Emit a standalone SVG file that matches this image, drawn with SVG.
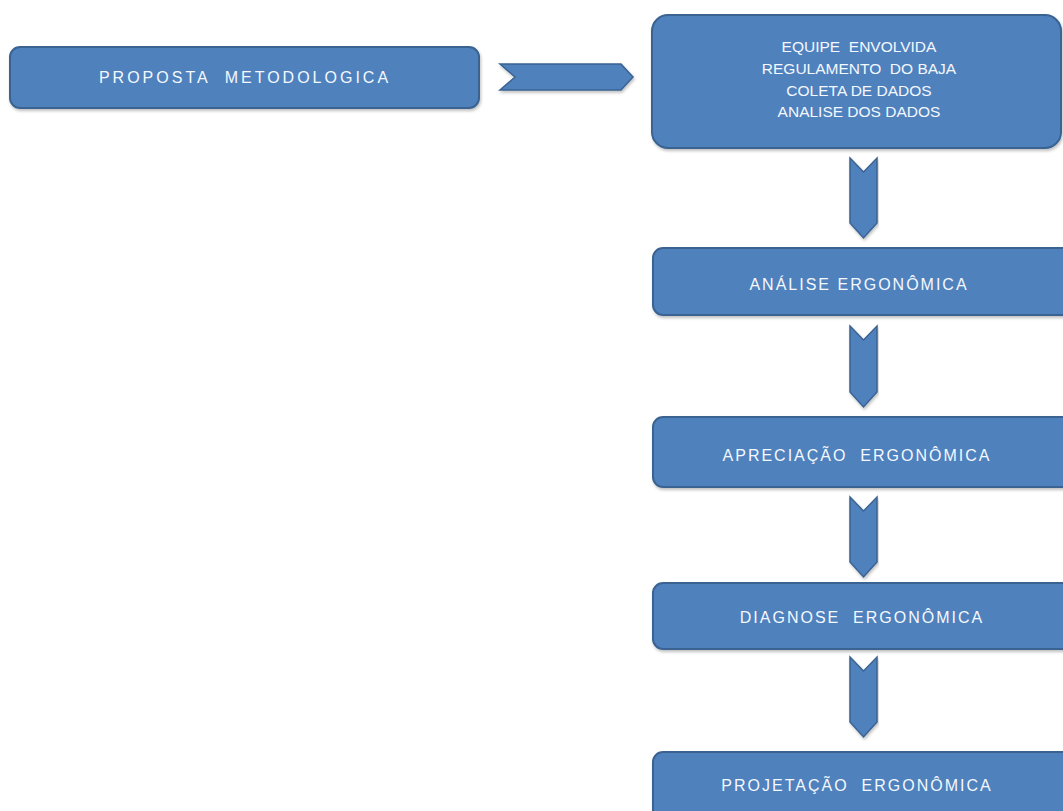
<svg xmlns="http://www.w3.org/2000/svg" width="1063" height="811" viewBox="0 0 1063 811">
<defs>
<filter id="sh" x="-5%" y="-10%" width="110%" height="130%">
<feDropShadow dx="1" dy="2" stdDeviation="1.5" flood-color="#000" flood-opacity="0.25"/>
</filter>
</defs>
<style>
.box{fill:#4F81BD;stroke:#3A6391;stroke-width:2;filter:url(#sh)}
.arr{fill:#4F81BD;stroke:#3A6391;stroke-width:1.5;filter:url(#sh)}
.t{font-family:"Liberation Sans",Arial,sans-serif;font-size:16px;fill:#F4F8FF;text-anchor:middle;letter-spacing:2px;white-space:pre}
.m{letter-spacing:0px;font-size:15.5px}
</style>
<rect width="1063" height="811" fill="#fff"/>
<g id="connectors">
<path class="arr" d="M500,64 L621,64 L633,77 L621,90 L500,90 L515,77 Z"/>
<path class="arr" d="M850,158 L863.5,172 L877,158 L877,223 L863.5,238 L850,223 Z"/>
<path class="arr" d="M850,326 L863.5,340 L877,326 L877,392 L863.5,407 L850,392 Z"/>
<path class="arr" d="M850,497 L863.5,511 L877,497 L877,562 L863.5,577 L850,562 Z"/>
<path class="arr" d="M850,657 L863.5,671 L877,657 L877,722 L863.5,737 L850,722 Z"/>
</g>
<g id="n1"><rect class="box" x="10" y="47" width="469" height="61" rx="10"/><text class="t" x="245" y="83" style="letter-spacing:3px" xml:space="preserve">PROPOSTA  METODOLOGICA</text></g>
<g id="n2"><rect class="box" x="652" y="15" width="409" height="133" rx="16"/>
<text class="t m" x="859" y="52" xml:space="preserve">EQUIPE  ENVOLVIDA</text>
<text class="t m" x="859" y="74" xml:space="preserve">REGULAMENTO  DO BAJA</text>
<text class="t m" x="859" y="96" xml:space="preserve">COLETA DE DADOS</text>
<text class="t m" x="859" y="117" xml:space="preserve">ANALISE DOS DADOS</text></g>
<g id="n3"><rect class="box" x="653" y="248" width="420" height="67" rx="10"/><text class="t" x="859" y="290" xml:space="preserve">ANÁLISE ERGONÔMICA</text></g>
<g id="n4"><rect class="box" x="653" y="417" width="420" height="70" rx="10"/><text class="t" x="857" y="461" xml:space="preserve">APRECIAÇÃO  ERGONÔMICA</text></g>
<g id="n5"><rect class="box" x="653" y="583" width="420" height="66" rx="10"/><text class="t" x="862" y="623" xml:space="preserve">DIAGNOSE  ERGONÔMICA</text></g>
<g id="n6"><rect class="box" x="653" y="752" width="420" height="80" rx="10"/><text class="t" x="857" y="791" xml:space="preserve">PROJETAÇÃO  ERGONÔMICA</text></g>
</svg>
